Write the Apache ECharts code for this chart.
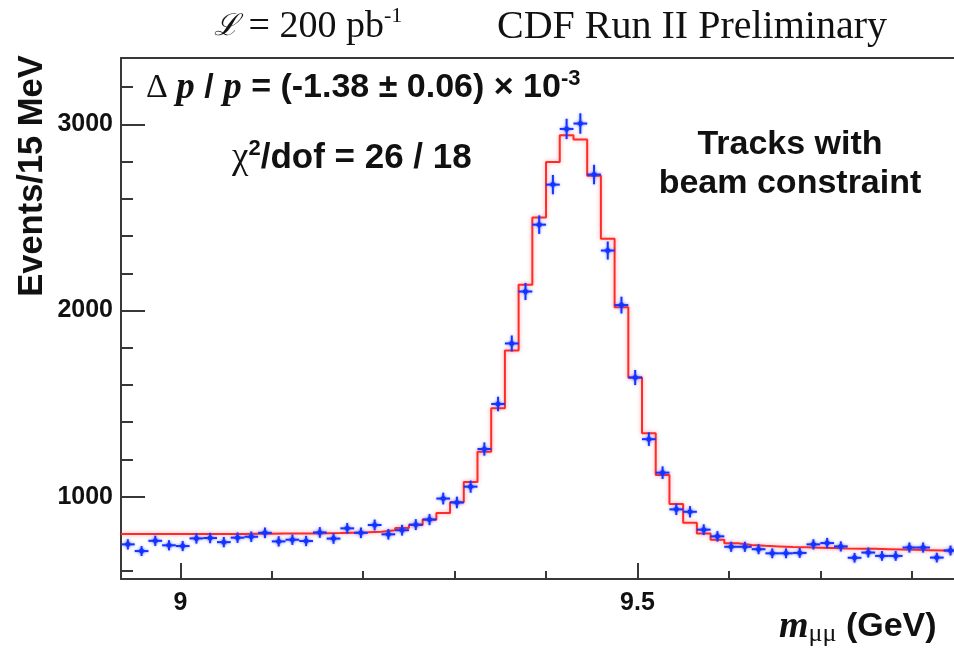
<!DOCTYPE html>
<html>
<head>
<meta charset="utf-8">
<script src="https://cdn.jsdelivr.net/npm/echarts@6/dist/echarts.min.js"></script>
<style>
html,body{margin:0;padding:0;background:#fff;}
#chart{width:954px;height:650px;}
</style>
</head>
<body>
<div id="chart"></div>
<script>
// Bin centres (GeV), 15 MeV bins
const binCenters = [
  8.9425, 8.9575, 8.9725, 8.9875, 9.0025, 9.0175, 9.0325, 9.0475, 9.0625, 9.0775,
  9.0925, 9.1075, 9.1225, 9.1375, 9.1525, 9.1675, 9.1825, 9.1975, 9.2125, 9.2275,
  9.2425, 9.2575, 9.2725, 9.2875, 9.3025, 9.3175, 9.3325, 9.3475, 9.3625, 9.3775,
  9.3925, 9.4075, 9.4225, 9.4375, 9.4525, 9.4675, 9.4825, 9.4975, 9.5125, 9.5275,
  9.5425, 9.5575, 9.5725, 9.5875, 9.6025, 9.6175, 9.6325, 9.6475, 9.6625, 9.6775,
  9.6925, 9.7075, 9.7225, 9.7375, 9.7525, 9.7675, 9.7825, 9.7975, 9.8125, 9.8275,
  9.8425
];
const binHalfWidth = 0.0075;
// Measured events per bin (blue points)
const eventCounts = [
  744, 708, 763, 739, 735, 776, 778, 756, 780, 785,
  806, 760, 769, 762, 808, 775, 830, 806, 848, 798,
  820, 850, 877, 990, 969, 1054, 1256, 1498, 1823, 2102,
  2461, 2676, 2975, 3004, 2730, 2322, 2029, 1640, 1309, 1129,
  932, 919, 823, 787, 731, 731, 718, 696, 696, 698,
  744, 751, 733, 672, 700, 682, 682, 727, 727, 673,
  711
];
// Fit histogram (red)
const fitCounts = [
  800, 800, 800, 800, 800, 800, 800, 800, 800, 801,
  801, 802, 802, 803, 804, 805, 807, 809, 812, 820,
  832, 848, 877, 912, 970, 1079, 1242, 1475, 1785, 2138,
  2500, 2798, 2941, 2918, 2724, 2385, 2018, 1640, 1341, 1117,
  961, 860, 803, 769, 750, 741, 736, 733, 730, 728,
  726, 724, 722, 721, 720, 718, 716, 715, 713, 711,
  709
];
// Axis ticks
const xMajorTicks = [9, 9.5];
const xMinorTicks = [9.1, 9.2, 9.3, 9.4, 9.6, 9.7, 9.8];
const yMajorTicks = [1000, 2000, 3000];
const yMinorTicks = [600, 800, 1200, 1400, 1600, 1800, 2200, 2400, 2600, 2800, 3200];

const blue = '#1533ff';
const red = '#ff2a2a';
const axisColor = '#383838';
const sans = '"Liberation Sans", Arial, sans-serif';
const serif = '"Liberation Serif", "Times New Roman", serif';

const pointData = binCenters.map((x, i) => [x, eventCounts[i], Math.sqrt(eventCounts[i])]);
const fitData = binCenters.map((x, i) => [x - binHalfWidth, fitCounts[i]]);
fitData.push([binCenters[binCenters.length - 1] + binHalfWidth, fitCounts[fitCounts.length - 1]]);

const X_MIN = 8.935, X_MAX = 9.8463, Y_MIN = 558, Y_MAX = 3356;

const chart = echarts.init(document.getElementById('chart'), null, {renderer: 'canvas'});
const option = {
  backgroundColor: '#ffffff',
  animation: false,
  grid: {left: 121, right: 0, top: 58, bottom: 71, containLabel: false},
  xAxis: [
    {
      type: 'value', min: X_MIN, max: X_MAX, position: 'bottom',
      axisLine: {show: true, onZero: false, lineStyle: {color: axisColor, width: 2}},
      axisTick: {show: true, inside: true, length: 16, customValues: xMajorTicks, lineStyle: {color: axisColor, width: 2}},
      axisLabel: {show: true, customValues: xMajorTicks, margin: 12, formatter: v => String(v),
        fontFamily: sans, fontWeight: 'bold', fontSize: 25, color: '#111'},
      splitLine: {show: false}
    },
    {
      type: 'value', min: X_MIN, max: X_MAX, position: 'bottom',
      axisLine: {show: false},
      axisTick: {show: true, inside: true, length: 8, customValues: xMinorTicks, lineStyle: {color: axisColor, width: 2}},
      axisLabel: {show: false},
      splitLine: {show: false}
    },
    {
      type: 'value', min: X_MIN, max: X_MAX, position: 'top',
      axisLine: {show: true, onZero: false, lineStyle: {color: axisColor, width: 2}},
      axisTick: {show: false}, axisLabel: {show: false}, splitLine: {show: false}
    }
  ],
  yAxis: [
    {
      type: 'value', min: Y_MIN, max: Y_MAX, position: 'left',
      axisLine: {show: true, onZero: false, lineStyle: {color: axisColor, width: 2}},
      axisTick: {show: true, inside: true, length: 24, customValues: yMajorTicks, lineStyle: {color: axisColor, width: 2}},
      axisLabel: {show: true, customValues: yMajorTicks, margin: 8, formatter: v => String(v),
        fontFamily: sans, fontWeight: 'bold', fontSize: 25, color: '#111'},
      splitLine: {show: false}
    },
    {
      type: 'value', min: Y_MIN, max: Y_MAX, position: 'left',
      axisLine: {show: false},
      axisTick: {show: true, inside: true, length: 12, customValues: yMinorTicks, lineStyle: {color: axisColor, width: 2}},
      axisLabel: {show: false}, splitLine: {show: false}
    }
  ],
  series: [
    {
      type: 'line', xAxisIndex: 0, yAxisIndex: 0, step: 'end', data: fitData,
      showSymbol: false, symbol: 'none', clip: true,
      lineStyle: {color: red, width: 2, shadowColor: 'rgba(255,90,90,0.55)', shadowBlur: 4},
      z: 2
    },
    {
      type: 'custom', xAxisIndex: 0, yAxisIndex: 0, data: pointData, clip: true, z: 3,
      renderItem: function (params, api) {
        const x = api.value(0), y = api.value(1), e = api.value(2);
        const c = api.coord([x, y]);
        const l = api.coord([x - binHalfWidth, y]);
        const r = api.coord([x + binHalfWidth, y]);
        const t = api.coord([x, y + e]);
        const b = api.coord([x, y - e]);
        const glow = {shadowColor: 'rgba(60,80,255,0.6)', shadowBlur: 3};
        return {
          type: 'group',
          children: [
            {type: 'line', shape: {x1: l[0], y1: l[1], x2: r[0], y2: r[1]}, style: Object.assign({stroke: blue, lineWidth: 2}, glow)},
            {type: 'line', shape: {x1: t[0], y1: t[1], x2: b[0], y2: b[1]}, style: Object.assign({stroke: blue, lineWidth: 2}, glow)},
            {type: 'polygon', shape: {points: [[c[0] - 3.5, c[1]], [c[0], c[1] - 3.5], [c[0] + 3.5, c[1]], [c[0], c[1] + 3.5]]},
              style: Object.assign({fill: blue}, glow)}
          ]
        };
      }
    }
  ],
  graphic: [
    {
      type: 'text', x: 214, y: 27,
      style: {
        text: '{L|ℒ}{t| = 200 pb}{s|-1}',
        align: 'left', verticalAlign: 'middle', textAlign: 'left', textVerticalAlign: 'middle',
        rich: {
          L: {fontFamily: '"DejaVu Serif", serif', fontStyle: 'italic', fontSize: 30, lineHeight: 44, fill: '#111'},
          t: {fontFamily: serif, fontSize: 38, lineHeight: 44, fill: '#111'},
          s: {fontFamily: serif, fontSize: 22, lineHeight: 22, verticalAlign: 'top', fill: '#111'}
        }
      }
    },
    {
      type: 'text', x: 497, y: 27,
      style: {text: 'CDF Run II Preliminary', fontFamily: serif, fontSize: 40, fill: '#111',
        align: 'left', verticalAlign: 'middle', textAlign: 'left', textVerticalAlign: 'middle'}
    },
    {
      type: 'text', x: 146, y: 88,
      style: {
        text: '{d|Δ }{p|p}{n| / }{p|p}{n| = (-1.38 ± 0.06) × 10}{s|-3}',
        align: 'left', verticalAlign: 'middle', textAlign: 'left', textVerticalAlign: 'middle',
        rich: {
          d: {fontFamily: serif, fontSize: 34, lineHeight: 40, fill: '#111'},
          p: {fontFamily: serif, fontStyle: 'italic', fontWeight: 'bold', fontSize: 37, lineHeight: 40, fill: '#111'},
          n: {fontFamily: sans, fontWeight: 'bold', fontSize: 34, lineHeight: 40, fill: '#111'},
          s: {fontFamily: sans, fontWeight: 'bold', fontSize: 22, lineHeight: 22, verticalAlign: 'top', fill: '#111'}
        }
      }
    },
    {
      type: 'text', x: 232, y: 158,
      style: {
        text: '{c|χ}{s|2}{n|/dof = 26 / 18}',
        align: 'left', verticalAlign: 'middle', textAlign: 'left', textVerticalAlign: 'middle',
        rich: {
          c: {fontFamily: serif, fontSize: 37, lineHeight: 40, fill: '#111'},
          s: {fontFamily: sans, fontWeight: 'bold', fontSize: 22, lineHeight: 22, verticalAlign: 'top', fill: '#111'},
          n: {fontFamily: sans, fontWeight: 'bold', fontSize: 35, lineHeight: 40, fill: '#111'}
        }
      }
    },
    {
      type: 'text', x: 790, y: 145,
      style: {text: 'Tracks with', fontFamily: sans, fontWeight: 'bold', fontSize: 34, fill: '#111',
        align: 'center', verticalAlign: 'middle', textAlign: 'center', textVerticalAlign: 'middle'}
    },
    {
      type: 'text', x: 790, y: 184,
      style: {text: 'beam constraint', fontFamily: sans, fontWeight: 'bold', fontSize: 34, fill: '#111',
        align: 'center', verticalAlign: 'middle', textAlign: 'center', textVerticalAlign: 'middle'}
    },
    {
      type: 'text', x: 32, y: 176, rotation: Math.PI / 2,
      style: {text: 'Events/15 MeV', fontFamily: sans, fontWeight: 'bold', fontSize: 34.5, fill: '#111',
        align: 'center', verticalAlign: 'middle', textAlign: 'center', textVerticalAlign: 'middle'}
    },
    {
      type: 'text', x: 779, y: 627,
      style: {
        text: '{m|m}{sub|μμ}{n| (GeV)}',
        align: 'left', verticalAlign: 'middle', textAlign: 'left', textVerticalAlign: 'middle',
        rich: {
          m: {fontFamily: serif, fontStyle: 'italic', fontWeight: 'bold', fontSize: 38, lineHeight: 40, fill: '#111'},
          sub: {fontFamily: serif, fontSize: 26, lineHeight: 24, verticalAlign: 'bottom', fill: '#111'},
          n: {fontFamily: sans, fontWeight: 'bold', fontSize: 34, lineHeight: 40, fill: '#111'}
        }
      }
    }
  ]
};
chart.setOption(option);
</script>
</body>
</html>
